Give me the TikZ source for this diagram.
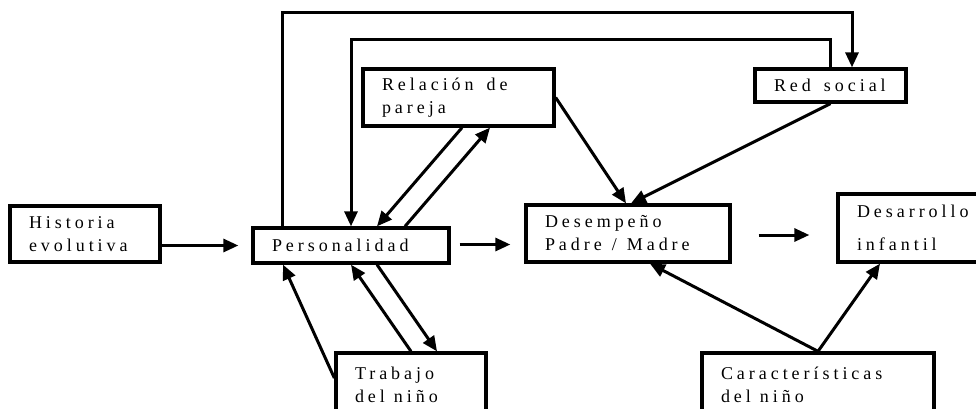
\documentclass[tikz,border=0pt]{standalone}
\usepackage{fontspec}
\usepackage{tikz}
\usetikzlibrary{arrows.meta,calc,positioning}
\newfontfamily\cajafont{Liberation Serif}[LetterSpace=22]
\newcommand{\esp}[1][13pt]{\hspace{#1}}

\begin{document}
\begin{tikzpicture}[->,>={Triangle[length=15pt,width=13pt]},line width=3pt,
                    x=1pt,y=-1pt]
  \tikzstyle{caja}=[draw=black,line width=3.3pt,inner xsep=19pt,inner ysep=0pt,
                    align=left,font=\cajafont\fontsize{18}{23}\selectfont]

  \useasboundingbox (0,0) rectangle (976,408);

  \node[caja,text width=112pt,minimum height=56pt] (hist) at (85,234)    {Historia\\evolutiva};
  \node[caja,text width=158pt,minimum height=35pt] (pers) at (351,245.5) {Personalidad};
  \node[caja,text width=153pt,minimum height=57pt] (rel)  at (458.5,97.5) {Relación\esp de\\pareja};
  \node[caja,text width=113pt,minimum height=33pt] (red)  at (830.5,85.5) {Red\esp social};
  \node[caja,text width=166pt,minimum height=57pt] (des)  at (628,233.5)  {Desempeño\\Padre\esp[10pt]/\esp[10pt]Madre};
  \node[caja,text width=104pt,minimum height=68pt] (desa) at (909,228)    {Desarrollo\\[10pt]infantil};
  \node[caja,text width=112pt,minimum height=64pt] (trab) at (411,385)    {Trabajo\\del\esp[9pt]niño};
  \node[caja,text width=194pt,minimum height=64pt] (car)  at (818,385)    {Características\\del\esp[9pt]niño};

  % lazos superiores
  \draw ([xshift=-69pt]pers.north) -- ++(0,-214) -| ([xshift=21.5pt]red.north);
  \draw (red.north) -- ++(0,-28) -| (pers.north);

  % flujo principal
  \draw (hist.east |- pers.west) -- ($(pers.west)+(-13,0)$);
  \draw ($(pers.east)+(9,-1)$) -- ($(des.west |- pers.east)+(-14,-1)$);
  \draw ($(des.east)+(27,1.5)$) -- ($(desa.west |- des.east)+(-27,1.5)$);

  % pareja
  \draw ([xshift=3.5pt]rel.south) -- ([xshift=26pt]pers.north);
  \draw ([xshift=54pt]pers.north) -- ([xshift=31.5pt]rel.south);
  \draw (rel.east) -- ([xshift=-2pt]des.north);
  \draw (red.south) -- ([xshift=3pt]des.north);

  % trabajo
  \draw ([yshift=7pt]trab.west) -- ([xshift=-68pt]pers.south);
  \draw (trab.north) -- (pers.south);
  \draw ([xshift=26pt]pers.south) -- ([xshift=26pt]trab.north);

  % caracteristicas
  \draw (car.north) -- ([xshift=22pt]des.south);
  \draw (car.north) -- ([xshift=-29pt]desa.south);
\end{tikzpicture}
\end{document}
